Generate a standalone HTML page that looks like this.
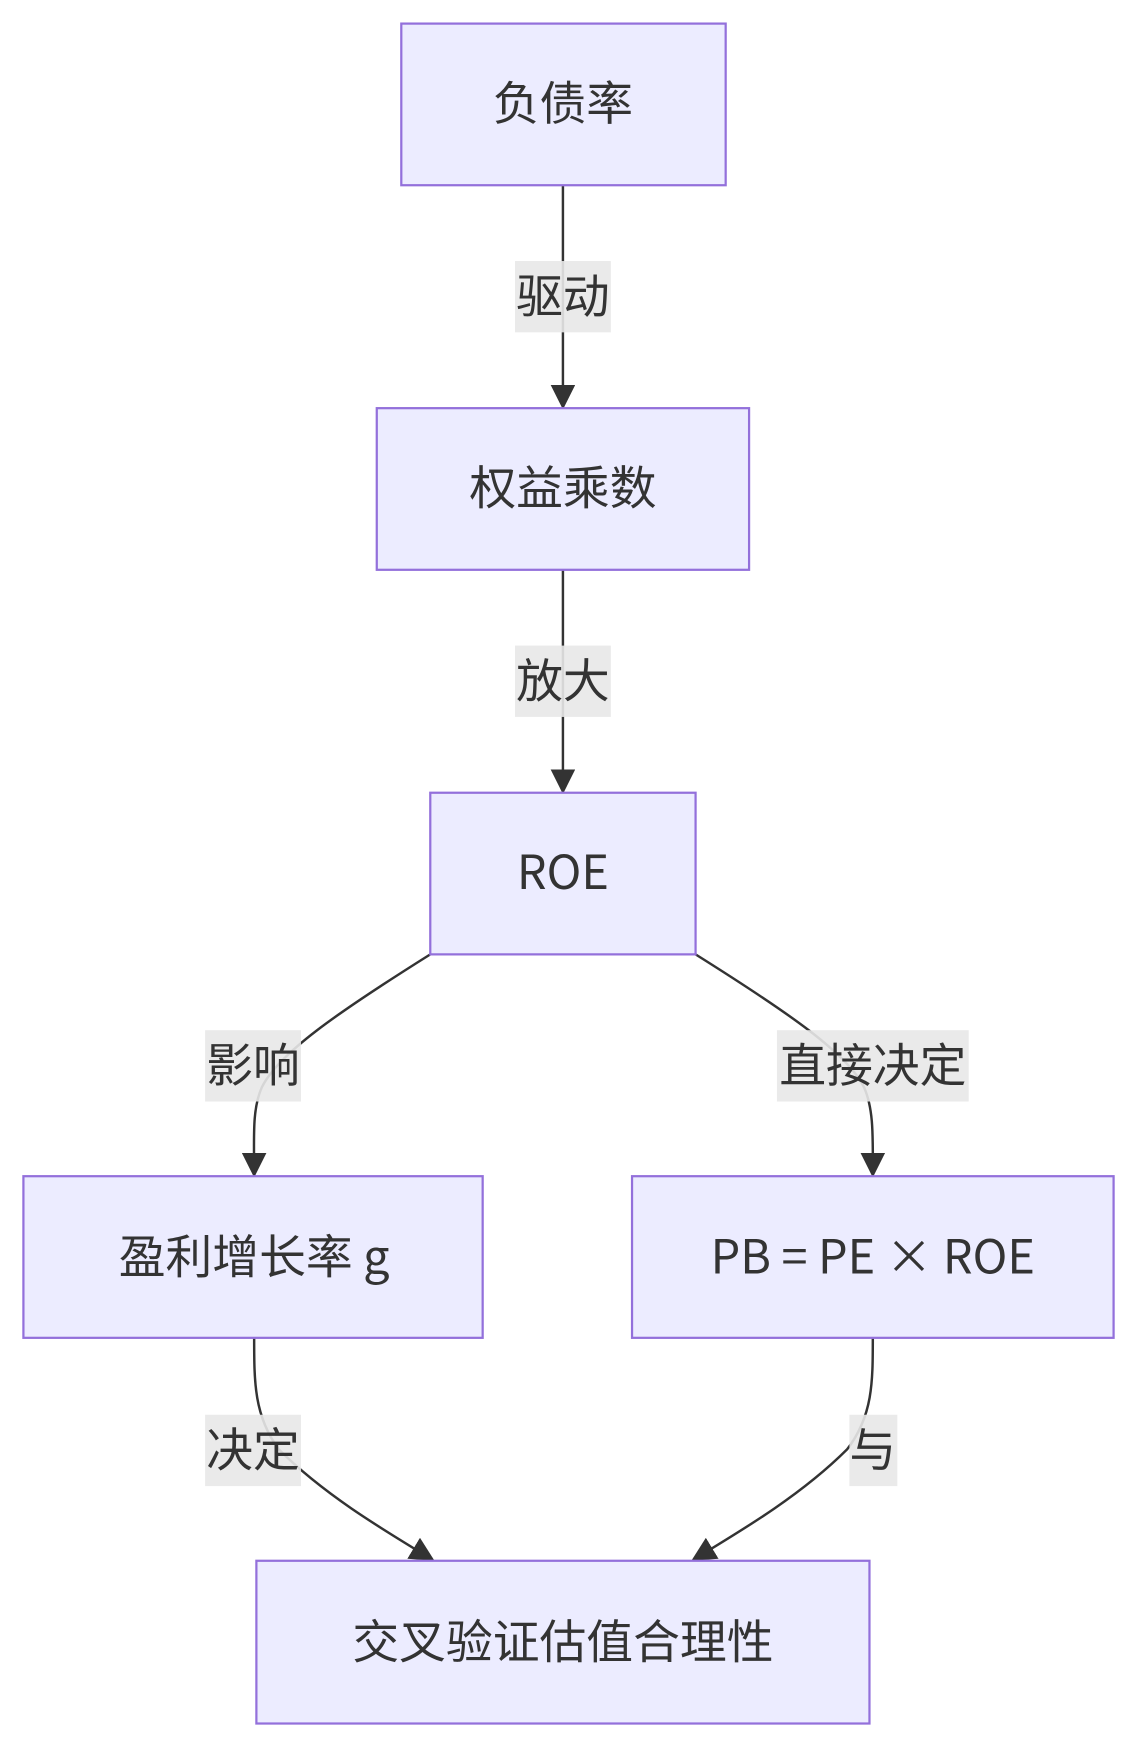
<!DOCTYPE html>
<html><head><meta charset="utf-8"><style>
html,body{margin:0;padding:0;background:#fff;}
svg{display:block}
text{font-family:"Noto Sans CJK SC","Liberation Sans",sans-serif;fill:#333;}
</style></head><body>
<svg width="1137" height="1746" viewBox="0 0 1020 1566" xmlns="http://www.w3.org/2000/svg">
<defs>
<marker id="b" viewBox="0 0 10 10" refX="9" refY="5" markerWidth="22" markerHeight="22" markerUnits="userSpaceOnUse" orient="auto"><path d="M0,0L10,5L0,10z" fill="#333"/></marker></defs>
<g fill="none" stroke="#333" stroke-width="2.2">
<path d="M505,166 L505,365" marker-end="url(#b)"/>
<path d="M505,511 L505,710" marker-end="url(#b)"/>
<path d="M386,856 C300,910 250,945 235,975 C226,995 228,1020 228,1054" marker-end="url(#b)"/>
<path d="M624,856 C710,910 760,945 775,975 C784,995 783,1020 783,1054" marker-end="url(#b)"/>
<path d="M228,1200 C228,1240 228,1270 250,1300 C290,1340 340,1370 388,1399" marker-end="url(#b)"/>
<path d="M783,1200 C783,1240 783,1270 760,1300 C720,1340 670,1370 622,1399" marker-end="url(#b)"/>
</g>
<g fill="#ececff" stroke="#9370db" stroke-width="2">
<rect x="360" y="21" width="291" height="145"/>
<rect x="338" y="366" width="334" height="145"/>
<rect x="386" y="711" width="238" height="145"/>
<rect x="21" y="1055" width="412" height="145"/>
<rect x="567" y="1055" width="432" height="145"/>
<rect x="230" y="1400" width="550" height="146"/>
</g>
<g fill="#e8e8e8" opacity="0.9">
<rect x="462" y="234" width="86" height="64"/>
<rect x="462" y="579" width="86" height="64"/>
<rect x="184" y="924" width="86" height="64"/>
<rect x="697" y="924" width="172" height="64"/>
<rect x="184" y="1269" width="86" height="64"/>
<rect x="762" y="1269" width="43" height="64"/>
</g>
<g font-size="42" text-anchor="middle" dominant-baseline="central">
<text x="505" y="90">负债率</text>
<text x="505" y="435">权益乘数</text>
<text x="505" y="780">ROE</text>
<text x="228" y="1125">盈利增长率 g</text>
<text x="783" y="1125">PB = PE × ROE</text>
<text x="505" y="1470">交叉验证估值合理性</text>
<text x="505" y="263">驱动</text>
<text x="505" y="608">放大</text>
<text x="227" y="953">影响</text>
<text x="783" y="953">直接决定</text>
<text x="227" y="1298">决定</text>
<text x="783" y="1298">与</text>
</g>
</svg>
</body></html>
